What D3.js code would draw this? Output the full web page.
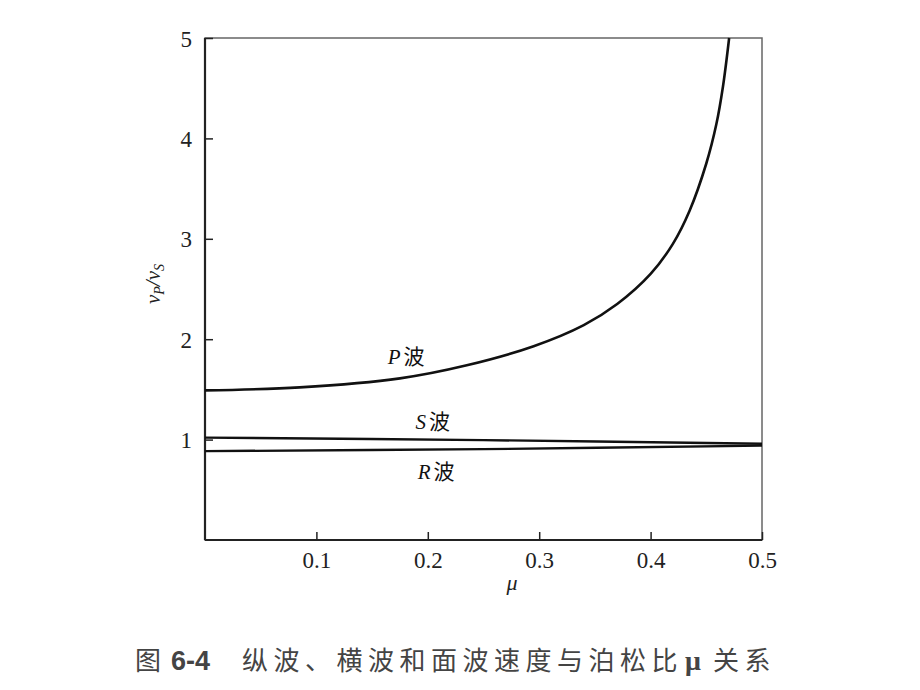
<!DOCTYPE html>
<html><head><meta charset="utf-8">
<script src="https://cdn.jsdelivr.net/npm/d3@7/dist/d3.min.js"></script>
<style>body{margin:0;background:#fff}</style>
</head><body>
<svg id="c" width="920" height="690"></svg>
<script>
const xTicks = [0.1, 0.2, 0.3, 0.4, 0.5];
const yTicks = [1, 2, 3, 4, 5];
const pMu = [0, 0.085, 0.175, 0.235, 0.295, 0.34, 0.37, 0.4, 0.42, 0.435, 0.45, 0.459, 0.465, 0.4705];
const pVal = [1.49, 1.52, 1.61, 1.74, 1.93, 2.14, 2.35, 2.65, 2.95, 3.28, 3.75, 4.14, 4.52, 5.0];
const sMu = [0, 0.25, 0.5];
const sVal = [1.02, 0.995, 0.958];
const rMu = [0, 0.25, 0.5];
const rVal = [0.885, 0.905, 0.94];
const labels = [{t:"P", mu:0.164, v:1.75}, {t:"S", mu:0.189, v:1.11}, {t:"R", mu:0.191, v:0.61}];

const svg = d3.select("#c");
const x = d3.scaleLinear().domain([0, 0.5]).range([205, 762]);
const y = d3.scaleLinear().domain([0, 5]).range([540, 38]);

// frame
svg.append("rect").attr("x", 205).attr("y", 38).attr("width", 557).attr("height", 502)
  .attr("fill", "none").attr("stroke", "#666").attr("stroke-width", 1.5);
svg.append("line").attr("x1", 205).attr("x2", 205).attr("y1", 38).attr("y2", 540).attr("stroke", "#222").attr("stroke-width", 2.2);
svg.append("line").attr("x1", 205).attr("x2", 762).attr("y1", 540).attr("y2", 540).attr("stroke", "#222").attr("stroke-width", 2.2);

const serif = "'Liberation Serif','DejaVu Serif',serif";
const xa = svg.append("g").attr("transform", "translate(0,540)")
  .call(d3.axisBottom(x).tickValues(xTicks).tickSize(-8).tickPadding(12).tickFormat(d3.format(".1f")));
const ya = svg.append("g").attr("transform", "translate(205,0)")
  .call(d3.axisLeft(y).tickValues(yTicks).tickSize(-8).tickPadding(13).tickFormat(d3.format("d")));
[xa, ya].forEach(a => {
  a.select(".domain").remove();
  a.selectAll("line").attr("stroke", "#222").attr("stroke-width", 1.5);
  a.selectAll("text").attr("font-family", serif).attr("font-size", 23).attr("fill", "#222");
});
ya.selectAll("text").attr("dy", "0.35em");

const line = d3.line().x(d => x(d[0])).y(d => y(d[1])).curve(d3.curveCatmullRom.alpha(0.5));
function draw(mu, v, w) {
  svg.append("path").datum(mu.map((m, i) => [m, v[i]])).attr("d", line)
    .attr("fill", "none").attr("stroke", "#111").attr("stroke-width", w);
}
draw(pMu, pVal, 2.6);
draw(sMu, sVal, 2.4);
draw(rMu, rVal, 2.4);

labels.forEach(l => {
  const t = svg.append("text").attr("x", x(l.mu)).attr("y", y(l.v)).attr("font-size", 21).attr("fill", "#111");
  t.append("tspan").attr("font-family", serif).attr("font-style", "italic").text(l.t);
  t.append("tspan").attr("font-family", "'Noto Sans CJK SC',sans-serif").attr("dx", 3).text("波");
});

// y label
const yl = svg.append("text").attr("transform", "translate(160,284) rotate(-90)")
  .attr("text-anchor", "middle").attr("font-family", serif).attr("font-style", "italic").attr("font-size", 21).attr("fill", "#222");
yl.append("tspan").text("v");
yl.append("tspan").attr("font-size", 14).attr("dy", 4).text("P");
yl.append("tspan").attr("dy", -4).text("/v");
yl.append("tspan").attr("font-size", 14).attr("dy", 4).text("S");

// x label
svg.append("text").attr("x", 512).attr("y", 590).attr("text-anchor", "middle")
  .attr("font-family", serif).attr("font-style", "italic").attr("font-size", 22).attr("fill", "#222").text("μ");

// caption
const cap = svg.append("text").attr("x", 135).attr("y", 670).attr("font-size", 26).attr("fill", "#444")
  .attr("font-family", "'Noto Sans CJK SC',sans-serif");
cap.append("tspan").text("图");
cap.append("tspan").attr("dx", 10).attr("font-family", "'Liberation Sans',Arial,sans-serif").attr("font-weight", "bold").attr("font-size", 27).text("6-4");
cap.append("tspan").attr("dx", 32).attr("letter-spacing", 5.5).text("纵波、横波和面波速度与泊松比");
cap.append("tspan").attr("dx", 2).attr("font-family", serif).attr("font-weight", "bold").attr("font-size", 28).text("μ");
cap.append("tspan").attr("dx", 12).attr("letter-spacing", 5.5).text("关系");
</script>
</body></html>
